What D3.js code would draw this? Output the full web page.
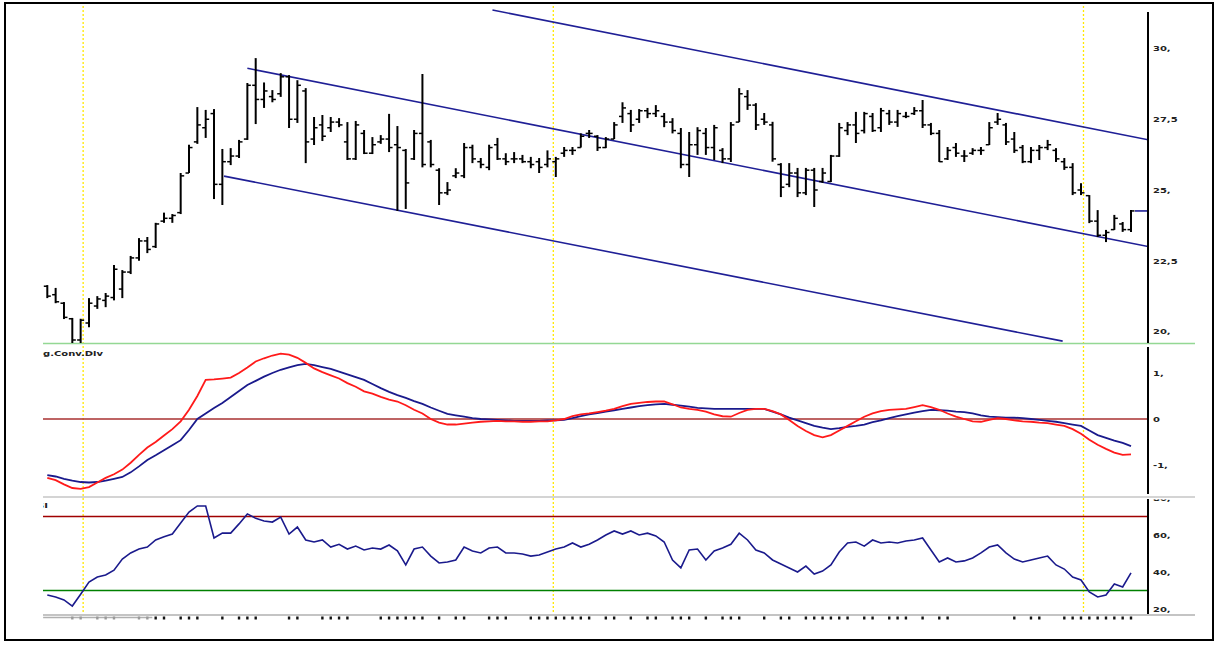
<!DOCTYPE html>
<html lang="en">
<head>
<meta charset="UTF-8">
<title>Price channel with MACD and RSI</title>
<script src="https://d3js.org/d3.v7.min.js"></script>
<style>
  body { margin: 0; background: #fff; }
  svg text { font-family: "DejaVu Sans", Verdana, sans-serif; font-weight: bold; font-size: 10px; fill: #222; }
</style>
</head>
<body>
<div id="chart"></div>
<script>
// ---- data (bar index 0..130) ----
const barOpen = [
  21.6, 21.3, 21.0, 20.45, 19.7, 20.3, 20.9, 21.1, 21.2, 21.5,
  22.1, 22.6, 23.2, 23.0, 23.9, 24.0, 24.2, 25.6, 26.7, 27.2,
  27.7, 25.2, 26.0, 26.2, 26.8, 28.7, 28.2, 28.3, 28.4, 29.0,
  27.5, 28.5, 26.8, 27.3, 27.2, 27.4, 26.7, 26.1, 27.0, 26.3,
  26.7, 26.8, 26.6, 26.4, 26.1, 27.0, 26.7, 25.7, 24.9, 25.5,
  25.5, 26.5, 26.0, 25.8, 26.6, 26.1, 26.1, 26.1, 26.0, 26.0,
  25.9, 26.0, 26.3, 26.4, 26.5, 27.0, 26.9, 26.5, 26.8, 27.6,
  27.7, 27.5, 27.8, 27.7, 27.6, 27.4, 27.0, 25.9, 26.6, 27.0,
  26.5, 26.4, 26.1, 27.4, 28.3, 28.0, 27.5, 27.3, 25.9, 25.2,
  25.6, 24.9, 25.7, 25.3, 25.3, 26.2, 27.1, 27.3, 27.1, 27.6,
  27.2, 27.7, 27.4, 27.6, 27.7, 27.8, 27.3, 27.0, 26.1, 26.5,
  26.2, 26.3, 26.4, 26.6, 27.4, 27.3, 26.8, 26.5, 26.0, 26.4,
  26.5, 26.4, 26.0, 25.8, 25.0, 24.8, 23.9, 23.4, 23.6, 23.8,
  23.6
];
const barHigh = [
  21.64, 21.54, 21.04, 20.48, 20.45, 21.18, 21.25, 21.36, 22.35, 22.17,
  22.67, 23.3, 23.34, 23.84, 24.2, 24.15, 25.6, 26.6, 27.93, 27.83,
  27.86, 26.45, 26.48, 26.77, 28.78, 29.66, 28.8, 28.53, 29.13, 29.06,
  28.88, 28.6, 27.58, 27.65, 27.58, 27.54, 27.4, 27.44, 27.12, 26.87,
  26.94, 27.69, 27.26, 26.45, 27.12, 29.1, 26.77, 25.77, 25.28, 25.77,
  26.66, 26.6, 26.13, 26.6, 26.84, 26.3, 26.34, 26.24, 26.17, 26.13,
  26.4, 26.17, 26.52, 26.52, 27.0, 27.12, 26.94, 26.87, 27.4, 28.1,
  27.83, 27.86, 27.9, 28.0, 27.72, 27.54, 27.19, 27.05, 27.22, 27.19,
  27.3, 26.48, 27.4, 28.6, 28.53, 28.07, 27.72, 27.41, 25.95, 25.95,
  25.78, 25.78, 25.78, 25.78, 26.24, 27.37, 27.4, 27.76, 27.76, 27.72,
  27.9, 27.83, 27.83, 27.76, 27.93, 28.18, 27.37, 27.12, 26.52, 26.66,
  26.41, 26.48, 26.52, 27.4, 27.72, 27.37, 27.05, 26.59, 26.52, 26.59,
  26.77, 26.48, 26.13, 25.95, 25.24, 24.82, 24.29, 23.59, 24.12, 23.87,
  24.29
];
const barLow = [
  21.18, 21.0, 20.44, 19.5, 19.5, 20.15, 20.8, 20.86, 21.1, 21.18,
  22.03, 22.5, 22.77, 22.95, 23.84, 23.84, 24.15, 25.6, 26.63, 26.84,
  24.68, 24.47, 25.88, 26.13, 26.77, 27.33, 27.9, 28.1, 28.29, 27.19,
  27.37, 25.95, 26.59, 26.73, 27.05, 27.22, 26.06, 26.06, 26.27, 26.27,
  26.63, 26.34, 24.26, 24.33, 26.06, 25.8, 25.8, 24.47, 24.82, 25.42,
  25.42, 25.95, 25.77, 25.7, 26.06, 25.88, 25.95, 25.95, 25.77, 25.6,
  25.8, 25.46, 26.17, 26.24, 26.5, 26.84, 26.38, 26.48, 26.8, 27.37,
  27.05, 27.37, 27.54, 27.58, 27.22, 27.0, 25.77, 25.46, 26.24, 26.24,
  26.06, 25.95, 25.99, 27.4, 27.83, 27.12, 27.3, 26.0, 24.75, 25.1,
  24.75, 24.82, 24.4, 25.25, 25.28, 26.17, 26.94, 26.66, 27.0, 27.05,
  27.05, 27.3, 27.23, 27.54, 27.65, 27.19, 26.94, 25.99, 26.06, 26.17,
  25.99, 26.24, 26.24, 26.59, 27.3, 26.59, 26.31, 25.95, 25.95, 26.06,
  26.41, 25.99, 25.71, 24.82, 24.82, 23.83, 23.34, 23.16, 23.59, 23.52,
  23.52
];
const barClose = [
  21.25, 21.05, 20.5, 19.7, 20.4, 21.0, 21.15, 21.25, 22.2, 22.1,
  22.6, 23.2, 22.9, 23.8, 24.0, 24.1, 25.5, 26.5, 27.3, 27.5,
  25.2, 26.0, 26.2, 26.7, 28.7, 28.2, 28.5, 28.2, 29.0, 27.5,
  28.7, 26.7, 27.2, 26.9, 27.4, 27.3, 26.1, 27.3, 26.3, 26.6,
  26.8, 26.5, 26.5, 25.25, 27.0, 25.9, 25.9, 24.9, 25.0, 25.6,
  26.5, 26.1, 25.9, 26.5, 26.1, 26.0, 26.1, 26.0, 25.9, 25.8,
  26.1, 26.1, 26.4, 26.4, 26.9, 27.0, 26.5, 26.8, 27.3, 27.9,
  27.3, 27.8, 27.7, 27.8, 27.4, 27.1, 25.9, 26.6, 27.1, 26.5,
  27.2, 26.1, 27.3, 28.4, 28.0, 27.3, 27.4, 26.1, 25.1, 25.6,
  24.9, 25.7, 25.0, 25.6, 26.2, 27.2, 27.3, 27.0, 27.7, 27.1,
  27.8, 27.4, 27.7, 27.6, 27.8, 27.3, 27.0, 26.0, 26.4, 26.3,
  26.2, 26.4, 26.4, 27.2, 27.5, 26.7, 26.4, 26.0, 26.4, 26.5,
  26.6, 26.1, 25.8, 24.9, 24.9, 23.9, 23.4, 23.5, 24.0, 23.6,
  24.26
];

// regression channel: [bar index, price] end points
const channelUpper = [[53.4, 31.36], [132.1, 26.77]];
const channelMiddle = [[24.0, 29.3], [132.1, 23.0]];
const channelLower = [[21.2, 25.49], [121.8, 19.66]];

const macdLine = [
  -1.28, -1.33, -1.42, -1.50, -1.52, -1.48, -1.38, -1.28, -1.2, -1.1,
  -0.95, -0.78, -0.62, -0.5, -0.36, -0.22, -0.05, 0.2, 0.5, 0.85,
  0.86, 0.88, 0.9, 1.0, 1.12, 1.25, 1.32, 1.38, 1.42, 1.4,
  1.33, 1.22, 1.1, 1.02, 0.95, 0.88, 0.78, 0.7, 0.6, 0.55,
  0.48, 0.42, 0.38, 0.3, 0.2, 0.12, 0.0, -0.08, -0.12, -0.12,
  -0.1, -0.08, -0.06, -0.05, -0.04, -0.05, -0.05, -0.06, -0.06, -0.05,
  -0.05, -0.03, 0.0, 0.06, 0.1, 0.12, 0.15, 0.18, 0.22, 0.28,
  0.33, 0.35, 0.37, 0.38, 0.38, 0.32, 0.25, 0.22, 0.2, 0.16,
  0.1, 0.06, 0.05, 0.13, 0.2, 0.22, 0.22, 0.17, 0.1, -0.02,
  -0.15, -0.26, -0.35, -0.4, -0.35, -0.25, -0.15, -0.05, 0.05, 0.12,
  0.17, 0.2, 0.21, 0.22, 0.26, 0.3, 0.26, 0.2, 0.12, 0.05,
  0.0, -0.05, -0.06, -0.02, 0.02, 0.0, -0.03, -0.05, -0.06, -0.08,
  -0.09, -0.12, -0.15, -0.22, -0.32, -0.45, -0.56, -0.65, -0.73, -0.78,
  -0.77
];
const signalLine = [
  -1.22, -1.25, -1.3, -1.34, -1.37, -1.38, -1.37, -1.34, -1.3, -1.26,
  -1.16, -1.03, -0.89, -0.79, -0.68, -0.57, -0.46, -0.24, 0.0, 0.12,
  0.24, 0.35, 0.48, 0.61, 0.74, 0.83, 0.92, 1.0, 1.07, 1.12,
  1.17, 1.2, 1.17, 1.13, 1.09, 1.03, 0.97, 0.91, 0.85, 0.76,
  0.67, 0.59, 0.52, 0.46, 0.39, 0.33, 0.25, 0.18, 0.11, 0.08,
  0.05, 0.02, 0.0, -0.01, -0.02, -0.03, -0.04, -0.04, -0.04, -0.04,
  -0.03, -0.03, -0.02, 0.02, 0.06, 0.1, 0.13, 0.16, 0.19, 0.22,
  0.25, 0.28, 0.3, 0.32, 0.33, 0.31, 0.29, 0.27, 0.24, 0.23,
  0.22, 0.22, 0.22, 0.22, 0.22, 0.22, 0.22, 0.16, 0.1, 0.03,
  -0.03, -0.09, -0.15, -0.19, -0.22, -0.2, -0.17, -0.15, -0.12, -0.07,
  -0.03, 0.02, 0.06, 0.1, 0.14, 0.17, 0.2, 0.19, 0.18, 0.16,
  0.15, 0.12, 0.08, 0.05, 0.04, 0.03, 0.03, 0.02, 0.0, -0.02,
  -0.04, -0.06, -0.09, -0.12, -0.15, -0.25, -0.35, -0.41, -0.47, -0.52,
  -0.59
];
const rsiLine = [
  27.6, 26.5, 24.9, 21.6, 28, 34.6, 37.3, 38.4, 41, 47,
  50.3, 52.4, 53.5, 57.3, 59, 60.5, 66.5, 72.4, 75.7, 75.7,
  58.4, 61, 61, 66, 71.4, 69, 67.6, 67, 69.7, 60.5,
  64.3, 57.3, 56.2, 57.3, 53.5, 55, 52.4, 54, 51.9, 53,
  52.4, 54.6, 51.4, 43.8, 52.4, 53.5, 48.6, 44.9, 45.4, 46.5,
  53.5, 51.4, 50.3, 53, 53.5, 50.3, 50.3, 49.7, 48.6, 49.2,
  50.8, 52.4, 53.5, 55.7, 53.5, 55, 57.3, 60, 62.2, 60.5,
  62.2, 60, 61, 59.5, 56.2, 46.5, 42.2, 51.9, 52.4, 46.5,
  51.4, 53, 55, 61, 57.3, 51.9, 50.3, 46.5, 44.3, 42.2,
  40, 43.2, 38.9, 40.5, 43.8, 50.8, 55.7, 56.2, 54, 57.3,
  55.7, 56.2, 55.7, 56.8, 57.3, 58.4, 51.9, 45.4, 47.6, 45.4,
  46, 47.6, 50.3, 53.5, 54.6, 50.3, 47, 45.4, 46.5, 47.6,
  48.6, 43.8, 41.6, 37.3, 35.7, 29.2, 26.5, 27.6, 33.5, 31.9,
  39.5
];

const priceTicks = [20, 22.5, 25, 27.5, 30];
const priceMinor = [21.25, 23.75, 26.25, 28.75, 31.25];
const macdTicks = [-1, 0, 1];
const macdMinor = [-1.5, -0.5, 0.5, 1.5];
const rsiTicks = [20, 40, 60, 80];
const rsiMinor = [30, 50, 70];
const rsiLevels = [70, 30];

// year separators and date ticks (bar index)
const yearMarks = [4.3, 60.7, 124.3];
const dateTickBars = [13, 14, 16, 17, 18, 21, 23, 24, 25, 29, 30, 33, 34, 35, 36, 40, 41, 42,
  43, 44, 45, 47, 49, 50, 53, 54, 55, 58, 59, 60, 61, 62, 63, 64, 65, 67, 68, 70, 72, 73, 75, 76,
  77, 79, 81, 82, 83, 86, 88, 89, 91, 92, 93, 94, 95, 96, 98, 99, 101, 102, 103, 105, 107, 108,
  116, 118, 119, 122, 123, 124, 125, 126, 127, 128, 129, 130];
const dateTickGray = [3, 4, 6, 7, 8, 11, 12];

// ---- layout ----
const W = 1219, H = 646;
const plotLeft = 43, plotRight = 1148, sepRight = 1195;
const panels = {
  price: { top: 6, bottom: 343, axisTop: 12, axisBottom: 343 },
  macd: { top: 344, bottom: 497, axisTop: 347, axisBottom: 494 },
  rsi: { top: 497, bottom: 615, axisTop: 499, axisBottom: 614, labelTop: 499.5 }
};

const svg = d3.select("#chart").append("svg")
  .attr("width", W).attr("height", H);

svg.append("rect").attr("width", W).attr("height", H).attr("fill", "#fff");

const x = d3.scaleLinear().domain([0, 130]).range([47.3, 1131]);
const yPrice = d3.scaleLinear().domain([20, 30]).range([331.5, 48.5]);
const yMacd = d3.scaleLinear().domain([-1, 1]).range([465, 373]);
const yRsi = d3.scaleLinear().domain([20, 60]).range([609, 535]);

const defs = svg.append("defs");
Object.entries(panels).forEach(([k, p]) => {
  defs.append("clipPath").attr("id", "clip-" + k)
    .append("rect").attr("x", plotLeft).attr("y", p.top)
    .attr("width", plotRight - plotLeft).attr("height", p.bottom - p.top);
  const lt = p.labelTop || p.top;
  defs.append("clipPath").attr("id", "axclip-" + k)
    .append("rect").attr("x", plotRight).attr("y", lt)
    .attr("width", W - plotRight).attr("height", p.bottom - lt);
});

// yellow dotted year lines
svg.append("g").selectAll("line").data(yearMarks).join("line")
  .attr("x1", d => x(d)).attr("x2", d => x(d))
  .attr("y1", panels.price.top).attr("y2", panels.rsi.bottom)
  .attr("stroke", "#ffe800").attr("stroke-width", 1.3)
  .attr("stroke-dasharray", "2,2");

// panel separators
svg.append("line").attr("x1", plotLeft).attr("x2", sepRight)
  .attr("y1", 343.5).attr("y2", 343.5).attr("stroke", "#94d894").attr("stroke-width", 1.5);
svg.append("line").attr("x1", plotLeft).attr("x2", sepRight)
  .attr("y1", 497).attr("y2", 497).attr("stroke", "#d4d4d4").attr("stroke-width", 2);
svg.append("line").attr("x1", plotLeft).attr("x2", sepRight)
  .attr("y1", 615).attr("y2", 615).attr("stroke", "#c4c4c4").attr("stroke-width", 2);

// ---- price panel ----
const gPrice = svg.append("g").attr("clip-path", "url(#clip-price)");
const bars = d3.range(barHigh.length);

const line2 = d3.line().x(d => x(d[0])).y(d => yPrice(d[1]));
[channelUpper, channelMiddle, channelLower].forEach(c => {
  gPrice.append("path").attr("d", line2(c))
    .attr("fill", "none").attr("stroke", "#1f1f96").attr("stroke-width", 1.6);
});

const barG = gPrice.append("g").attr("stroke", "#000");
barG.selectAll(".hl").data(bars).join("line").attr("class", "hl")
  .attr("x1", i => x(i)).attr("x2", i => x(i))
  .attr("y1", i => yPrice(barHigh[i])).attr("y2", i => yPrice(barLow[i]))
  .attr("stroke-width", 2);
barG.selectAll(".op").data(bars).join("line").attr("class", "op")
  .attr("x1", i => x(i) - 3.5).attr("x2", i => x(i))
  .attr("y1", i => yPrice(barOpen[i])).attr("y2", i => yPrice(barOpen[i]))
  .attr("stroke-width", 1.5);
barG.selectAll(".cl").data(bars).join("line").attr("class", "cl")
  .attr("x1", i => x(i)).attr("x2", i => x(i) + 3.5)
  .attr("y1", i => yPrice(barClose[i])).attr("y2", i => yPrice(barClose[i]))
  .attr("stroke-width", 1.5);

// last price marker
const last = barClose[barClose.length - 1];
svg.append("line").attr("x1", x(bars.length - 1) + 4).attr("x2", plotRight)
  .attr("y1", yPrice(last)).attr("y2", yPrice(last))
  .attr("stroke", "#1f1f96").attr("stroke-width", 1.6);

// ---- MACD panel ----
const gMacd = svg.append("g").attr("clip-path", "url(#clip-macd)");
gMacd.append("line").attr("x1", plotLeft).attr("x2", plotRight)
  .attr("y1", yMacd(0)).attr("y2", yMacd(0))
  .attr("stroke", "#a83030").attr("stroke-width", 1.5);
const macdPath = d3.line().x((d, i) => x(i)).y(d => yMacd(d));
gMacd.append("path").attr("d", macdPath(signalLine))
  .attr("fill", "none").attr("stroke", "#1a1a8c").attr("stroke-width", 1.8);
gMacd.append("path").attr("d", macdPath(macdLine))
  .attr("fill", "none").attr("stroke", "#ff1a1a").attr("stroke-width", 1.8);

// ---- RSI panel ----
const gRsi = svg.append("g").attr("clip-path", "url(#clip-rsi)");
gRsi.selectAll(".lvl").data(rsiLevels).join("line").attr("class", "lvl")
  .attr("x1", plotLeft).attr("x2", plotRight)
  .attr("y1", d => yRsi(d)).attr("y2", d => yRsi(d))
  .attr("stroke", d => d > 50 ? "#a00000" : "#008000").attr("stroke-width", 1.5);
gRsi.append("path").attr("d", d3.line().x((d, i) => x(i)).y(d => yRsi(d))(rsiLine))
  .attr("fill", "none").attr("stroke", "#1a1a8c").attr("stroke-width", 1.6);

// ---- axes ----
function drawAxis(key, scale, major, minor, fmt) {
  const p = panels[key];
  const g = svg.append("g").attr("clip-path", "url(#axclip-" + key + ")");
  const ax = g.append("g").attr("transform", `translate(${plotRight},0)`);
  ax.append("g").call(d3.axisLeft(scale).tickValues(major).tickSize(7).tickFormat("").tickSizeOuter(0))
    .call(s => s.select(".domain").remove())
    .selectAll("line").attr("stroke", "#8a8a8a").attr("stroke-width", 1.5);
  ax.append("g").call(d3.axisLeft(scale).tickValues(minor).tickSize(4).tickFormat("").tickSizeOuter(0))
    .call(s => s.select(".domain").remove())
    .selectAll("line").attr("stroke", "#8a8a8a").attr("stroke-width", 1.5);
  const lab = ax.append("g").call(d3.axisRight(scale).tickValues(major).tickSize(0).tickPadding(5).tickFormat(fmt));
  lab.select(".domain").remove();
  lab.attr("font-family", null).attr("font-size", null);
  lab.selectAll("text").attr("dy", null).attr("y", 0)
    .attr("transform", "scale(1,0.62) translate(0,3.8)");
  svg.append("line").attr("x1", plotRight).attr("x2", plotRight)
    .attr("y1", p.axisTop).attr("y2", p.axisBottom)
    .attr("stroke", "#000").attr("stroke-width", 2);
}
const commaFmt = d => (Number.isInteger(d) ? d + "," : String(d).replace(".", ","));
drawAxis("price", yPrice, priceTicks, priceMinor, commaFmt);
drawAxis("macd", yMacd, macdTicks, macdMinor, d => d === 0 ? "0" : d + ",");
drawAxis("rsi", yRsi, rsiTicks, rsiMinor, commaFmt);

// panel titles (cut off at the plot's left edge)
defs.append("clipPath").attr("id", "titleclip")
  .append("rect").attr("x", plotLeft).attr("y", 0).attr("width", 200).attr("height", H);
const titles = svg.append("g").attr("clip-path", "url(#titleclip)");
titles.append("text").attr("text-anchor", "end")
  .attr("transform", "translate(103,356) scale(1,0.62)")
  .text("Mov.Avg.Conv.Div");
titles.append("text").attr("text-anchor", "end")
  .attr("transform", "translate(48,508) scale(1,0.62)")
  .text("RSI");

// ---- date ticks under the chart ----
svg.append("line").attr("x1", x(-0.5)).attr("x2", x(12.6))
  .attr("y1", 617.5).attr("y2", 617.5).attr("stroke", "#b0b0b0").attr("stroke-width", 1.5);
svg.append("g").selectAll("rect").data(dateTickGray).join("rect")
  .attr("x", d => x(d) - 1.2).attr("y", 616.5).attr("width", 2.4).attr("height", 3)
  .attr("fill", "#9a9a9a");
svg.append("g").selectAll("rect").data(dateTickBars).join("rect")
  .attr("x", d => x(d) - 1.2).attr("y", 616.5).attr("width", 2.4).attr("height", 3)
  .attr("fill", "#111");

// outer frame
svg.append("rect").attr("x", 5).attr("y", 3).attr("width", 1208).attr("height", 637)
  .attr("fill", "none").attr("stroke", "#000").attr("stroke-width", 2);
</script>
</body>
</html>
